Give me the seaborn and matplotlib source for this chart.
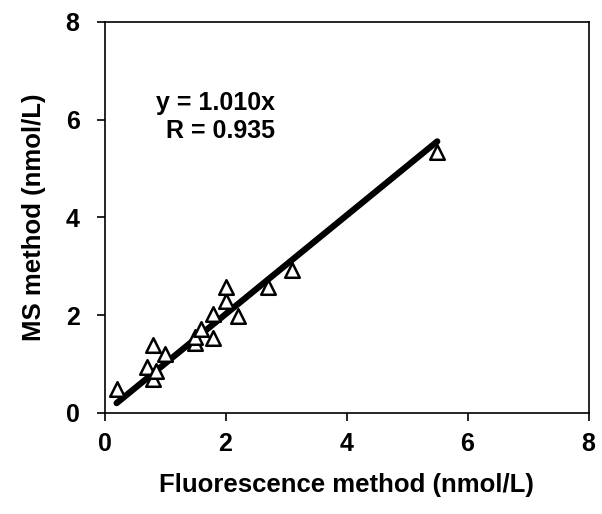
import numpy as np
import pandas as pd
import seaborn as sns
from matplotlib import pyplot as plt

# data
fluor = [0.2, 0.8, 0.7, 0.8, 0.85, 1.0, 1.5, 1.5, 1.6, 1.8, 1.8, 2.0, 2.0, 2.2, 2.7, 3.1, 5.5]
ms    = [0.5, 1.4, 0.95, 0.7, 0.85, 1.2, 1.43, 1.55, 1.72, 1.53, 2.02, 2.29, 2.58, 1.98, 2.58, 2.92, 5.33]
slope  = 1.010
r_val  = 0.935
fit_x  = [0.2, 5.5]
ticks  = [0, 2, 4, 6, 8]

sns.set_style('white')
plt.rcParams['font.family'] = ['Liberation Sans', 'DejaVu Sans']
plt.rcParams['font.weight'] = 'bold'
plt.rcParams.update({'text.color': 'black', 'axes.labelcolor': 'black',
                     'xtick.color': 'black', 'ytick.color': 'black'})

df  = pd.DataFrame({'x': fluor, 'y': ms})
fit = pd.DataFrame({'x': fit_x, 'y': [slope*v for v in fit_x]})

fig = plt.figure(figsize=(6.02, 5.14), dpi=100)
ax  = fig.add_axes([0.1736, 0.1965, 0.804, 0.761])

sns.lineplot(x='x', y='y', data=fit, ax=ax, color='black', linewidth=4.5, zorder=2)
sns.scatterplot(x='x', y='y', data=df, ax=ax, marker='^', s=110,
                facecolor='white', edgecolor='black', linewidth=1.8, zorder=3)

ax.set_xlim(0, 8)
ax.set_ylim(0, 8)
ax.set_xticks(ticks)
ax.set_yticks(ticks)
ax.tick_params(axis='both', direction='out', length=6, width=1.2, labelsize=18,
               bottom=True, left=True)
ax.tick_params(axis='x', pad=8)
ax.tick_params(axis='y', pad=12)
for lab in ax.get_xticklabels() + ax.get_yticklabels():
    lab.set_fontweight('bold')
for sp in ax.spines.values():
    sp.set_color('black')
    sp.set_linewidth(1.2)

ax.set_xlabel('Fluorescence method (nmol/L)', fontsize=18.5, fontweight='bold', labelpad=12)
ax.set_ylabel('MS method (nmol/L)', fontsize=18.5, fontweight='bold', labelpad=14)

ax.text(1.83, 6.33, 'y = %.3fx' % slope, ha='center', va='center', fontsize=18, fontweight='bold')
ax.text(1.91, 5.76, 'R = %.3f' % r_val, ha='center', va='center', fontsize=18, fontweight='bold')

plt.savefig('out.png', dpi=100)
